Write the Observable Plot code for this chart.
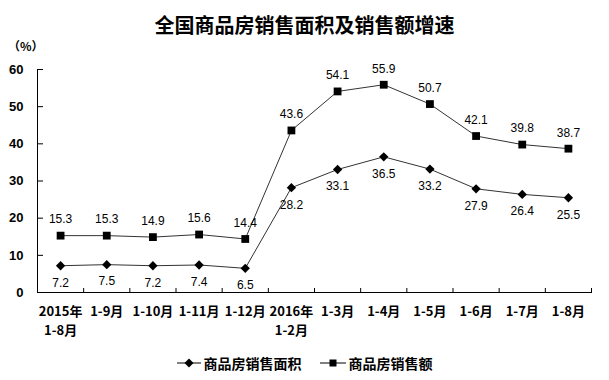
<!DOCTYPE html>
<html><head><meta charset="utf-8">
<script src="https://cdn.jsdelivr.net/npm/d3@7"></script>
<script src="https://cdn.jsdelivr.net/npm/@observablehq/plot@0.6"></script>
<style>
body{margin:0;background:#fff;}
#wrap{position:relative;width:609px;height:380px;font-family:"Liberation Sans","Noto Sans CJK SC",sans-serif;color:#000;}
#title{position:absolute;left:0;width:609px;top:11px;text-align:center;font-size:20px;font-weight:bold;font-family:"Noto Sans CJK SC",sans-serif;line-height:28px;}
#unit{position:absolute;left:8px;top:37px;font-size:12px;font-weight:bold;font-family:"Noto Sans CJK SC",sans-serif;}
#legend{position:absolute;left:0;width:609px;top:353px;text-align:center;font-size:14px;font-weight:bold;font-family:"Noto Sans CJK SC",sans-serif;line-height:20px;}
#legend span{display:inline-flex;align-items:center;margin:0 9px;}
#legend svg{margin-right:3px;}
#chart{position:absolute;left:0;top:0;}
</style></head>
<body><div id="wrap">
<div id="chart"></div>
<div id="title">全国商品房销售面积及销售额增速</div>
<div id="unit">（%）</div>
<div id="legend"></div>
</div>
<script>
const categories = ["2015年\n1-8月","1-9月","1-10月","1-11月","1-12月","2016年\n1-2月","1-3月","1-4月","1-5月","1-6月","1-7月","1-8月"];
const areaGrowth = [7.2, 7.5, 7.2, 7.4, 6.5, 28.2, 33.1, 36.5, 33.2, 27.9, 26.4, 25.5];
const salesGrowth = [15.3, 15.3, 14.9, 15.6, 14.4, 43.6, 54.1, 55.9, 50.7, 42.1, 39.8, 38.7];
const yTicks = [0, 10, 20, 30, 40, 50, 60];
const seriesNames = ["商品房销售面积", "商品房销售额"];

const idx = categories.map((_, i) => i);
const xDomain = [-0.5, categories.length - 0.5];
const boundaries = d3.range(0.5, categories.length + 0.5, 1);
const area = idx.map(i => ({i, v: areaGrowth[i]}));
const sales = idx.map(i => ({i, v: salesGrowth[i]}));
const lineColor = "#333";

const chart = Plot.plot({
  width: 609, height: 380,
  marginLeft: 37, marginRight: 18, marginTop: 69, marginBottom: 88,
  style: {fontFamily: "'Liberation Sans','Noto Sans CJK SC',sans-serif", background: "transparent", color: "#000"},
  x: {type: "linear", domain: xDomain},
  y: {domain: [0, 60]},
  marks: [
    Plot.ruleY([0], {stroke: "#000", strokeWidth: 1}),
    Plot.ruleX([xDomain[0]], {y1: 0, y2: 60, stroke: "#000", strokeWidth: 1}),
    Plot.axisY({ticks: yTicks, tickSize: 0, tickPadding: 14, fontSize: 13, fontWeight: "bold", label: null}),
    Plot.axisY({ticks: yTicks, anchor: "right", frameAnchor: "left", tickSize: 5, fill: "none", label: null, stroke: "#000"}),
    Plot.axisX({ticks: idx, tickSize: 0, tickPadding: 10, tickFormat: i => categories[i], fontSize: 13, fontWeight: "bold", label: null, lineHeight: 1.45, fontFamily: "'Noto Sans CJK SC',sans-serif"}),
    Plot.axisX({ticks: [...boundaries, xDomain[1]], anchor: "top", frameAnchor: "bottom", tickSize: 5, fill: "none", label: null, stroke: "#000"}),
    Plot.line(area, {x: "i", y: "v", stroke: lineColor, strokeWidth: 1}),
    Plot.line(sales, {x: "i", y: "v", stroke: lineColor, strokeWidth: 1}),
    Plot.dot(area, {x: "i", y: "v", symbol: "diamond2", r: 4.2, fill: "#000", stroke: "none"}),
    Plot.dot(sales, {x: "i", y: "v", symbol: "square", r: 4.4, fill: "#000", stroke: "none"}),
    Plot.text(area, {x: "i", y: "v", text: d => d.v.toFixed(1), dy: 17, fontSize: 12, fill: "#000"}),
    Plot.text(sales, {x: "i", y: "v", text: d => d.v.toFixed(1), dy: -16, fontSize: 12, fill: "#000"})
  ]
});
document.getElementById("chart").appendChild(chart);

const legend = document.getElementById("legend");
const shapes = [
  '<svg width="24" height="12"><line x1="0" y1="6" x2="24" y2="6" stroke="#000" stroke-width="1"/><path d="M12,1.5 L16.5,6 L12,10.5 L7.5,6 Z" fill="#000"/></svg>',
  '<svg width="26" height="12"><line x1="0" y1="6" x2="26" y2="6" stroke="#000" stroke-width="1"/><rect x="9.5" y="2.5" width="7" height="7" fill="#000"/></svg>'
];
seriesNames.forEach((n, k) => {
  const s = document.createElement("span");
  s.innerHTML = shapes[k] + n;
  legend.appendChild(s);
});
</script>
</body></html>
